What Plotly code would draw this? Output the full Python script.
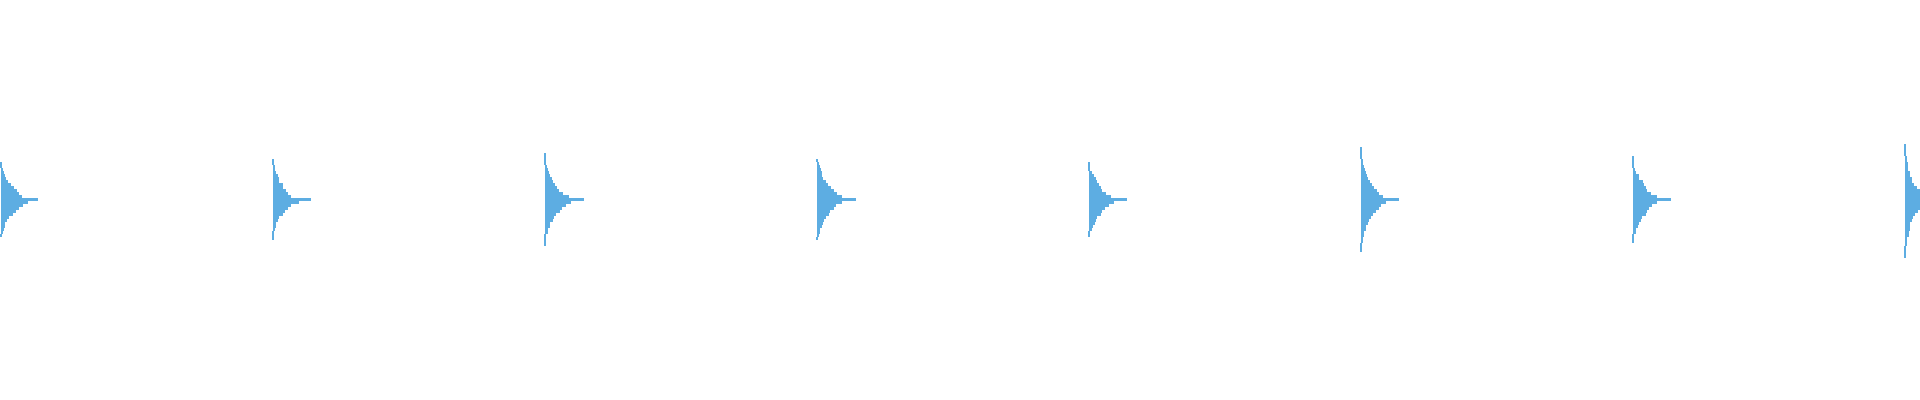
import plotly.graph_objects as go

# bin centres (offset from the middle of each group), top to bottom
bin_centers = [3 * k for k in range(20, -21, -1)]
bin_height = 3

# counts per bin for each group
group_1 = [0, 0, 0, 0, 0, 0, 0, 0,
           1, 1, 2, 3, 4, 5, 7, 10, 13, 16, 18, 21, 37, 27, 22, 18, 15, 12, 8, 6, 4, 4, 3, 2, 1,
           0, 0, 0, 0, 0, 0, 0, 0]
group_2 = [0, 0, 0, 0, 0, 0, 0,
           1, 1, 2, 2, 3, 5, 6, 6, 10, 10, 13, 15, 18, 38, 26, 18, 15, 12, 10, 6, 5, 3, 3, 2, 1, 1, 1,
           0, 0, 0, 0, 0, 0, 0]
group_3 = [0, 0, 0, 0, 0,
           1, 1, 1, 1, 2, 3, 4, 5, 7, 8, 10, 12, 14, 18, 24, 39, 26, 21, 17, 15, 11, 9, 8, 5, 5, 3, 3, 1, 1, 1, 1,
           0, 0, 0, 0, 0]
group_4 = [0, 0, 0, 0, 0, 0, 0,
           1, 2, 3, 4, 5, 5, 6, 9, 11, 14, 17, 20, 25, 39, 25, 19, 17, 13, 12, 9, 7, 6, 5, 3, 3, 2, 1,
           0, 0, 0, 0, 0, 0, 0]
group_5 = [0, 0, 0, 0, 0, 0, 0, 0,
           1, 1, 1, 3, 5, 7, 8, 10, 12, 13, 17, 22, 38, 25, 20, 16, 13, 12, 8, 7, 6, 4, 3, 1, 1,
           0, 0, 0, 0, 0, 0, 0, 0]
group_6 = [0, 0, 0,
           1, 1, 1, 1, 2, 2, 3, 4, 5, 6, 7, 9, 11, 13, 16, 18, 22, 38, 25, 20, 18, 15, 12, 10, 8, 7, 5, 5,
           3, 3, 2, 2, 1, 1, 1,
           0, 0, 0]
group_7 = [0, 0, 0, 0, 0, 0,
           1, 1, 1, 1, 2, 3, 6, 6, 10, 11, 13, 14, 18, 24, 38, 24, 19, 16, 14, 13, 9, 8, 6, 5, 3, 3, 1, 1, 1,
           0, 0, 0, 0, 0, 0]
group_8 = [0, 0,
           1, 1, 1, 1, 2, 2, 3, 3, 3, 5, 5, 7, 7, 9, 12, 15, 18, 24, 38, 25, 19, 15, 13, 10, 8, 7, 5, 5,
           5, 4, 4, 2, 2, 2, 1, 1, 1, 1,
           0]

groups = [group_1, group_2, group_3, group_4, group_5, group_6, group_7, group_8]
group_spacing = 272  # distance between group baselines, in count units

fig = go.Figure()
for i, counts in enumerate(groups):
    fig.add_trace(go.Bar(
        y=bin_centers,
        x=counts,
        base=i * group_spacing,
        width=bin_height,
        orientation='h',
        marker=dict(color='#5DADE2', line=dict(width=0)),
        showlegend=False,
    ))

fig.update_layout(
    width=1920,
    height=400,
    autosize=False,
    margin=dict(l=0, r=0, t=0, b=0),
    plot_bgcolor='white',
    paper_bgcolor='white',
    barmode='overlay',
    bargap=0,
    xaxis=dict(visible=False, range=[-0.5, 1919.5]),
    yaxis=dict(visible=False, range=[-201, 199]),
)

# drop the default page margin so the plot sits at the window's corner
fig.write_html("out.html", config={'displayModeBar': False},
               post_script="document.body.style.margin='0';")
